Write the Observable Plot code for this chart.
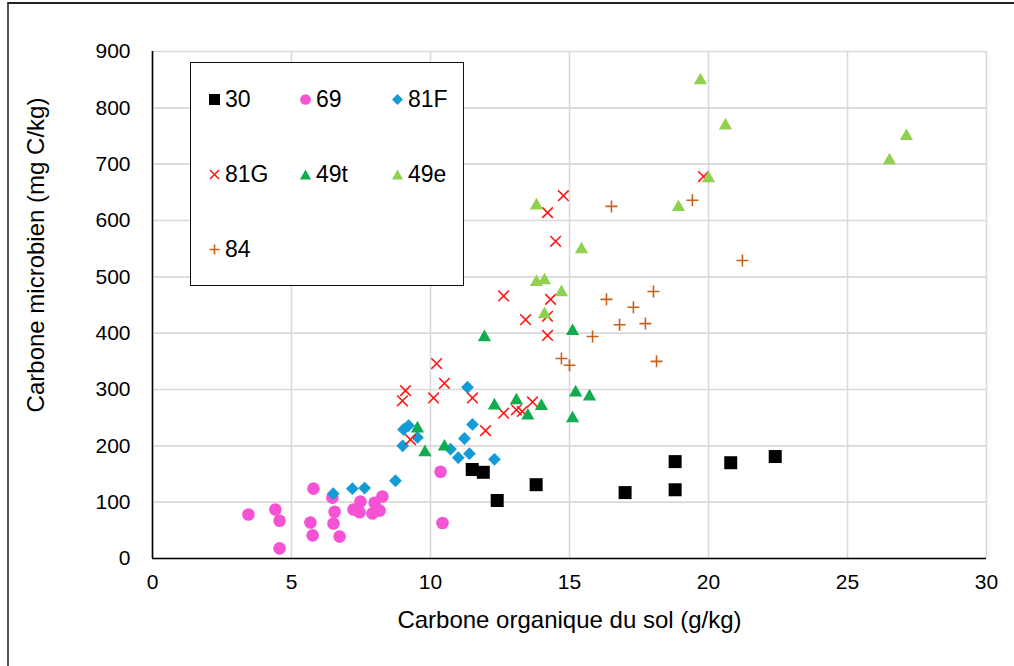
<!DOCTYPE html>
<html>
<head>
<meta charset="utf-8">
<script src="https://cdn.jsdelivr.net/npm/d3@7"></script>
<script src="https://cdn.jsdelivr.net/npm/@observablehq/plot@0.6"></script>
<style>
  body { margin: 0; background: #fff; }
  #chart { position: relative; width: 1014px; height: 666px; overflow: hidden;
           font-family: "Liberation Sans", Arial, sans-serif; }
  #border { position: absolute; left: 7px; top: 2px; width: 1014px; height: 700px;
            border-left: 2px solid #555; border-top: 2px solid #222; pointer-events: none; }
  #legend { position: absolute; left: 190px; top: 62px; width: 272px; height: 222px;
            border: 1.5px solid #111; background: #fff; }
  .item { position: absolute; height: 30px; display: flex; align-items: center;
          font-size: 23px; color: #000; }
  .item svg { margin-right: 4px; overflow: visible; }
</style>
</head>
<body>
<div id="chart"><div id="border"></div></div>
<script>
// Carbone organique du sol (g/kg) vs carbone microbien (mg C/kg), per site
const siteNames = ["30", "69", "81F", "81G", "49t", "49e", "84"];

const site30 = [[11.5,158],[11.9,153],[12.4,103],[13.8,131],[17.0,117],[18.8,172],[18.8,122],[20.8,170],[22.4,181]];
const site69 = [[3.45,78],[4.42,87],[4.57,67],[4.57,18],[5.79,124],[5.68,64],[5.76,41],[6.47,108],[6.55,83],[6.51,62],
                [6.73,39],[7.23,87],[7.45,82],[7.48,101],[7.91,80],[7.99,99],[8.17,85],[8.27,110],[10.36,154],[10.43,63]];
const site81F = [[6.5,115],[7.19,124],[7.63,125],[8.74,138],[9.0,200],[9.03,229],[9.21,236],[9.53,215],[10.72,194],
                 [11.0,179],[11.22,213],[11.51,238],[11.4,186],[11.33,304],[12.3,176]];
const site81G = [[10.22,346],[9.1,298],[8.99,280],[10.11,285],[10.5,311],[11.51,285],[9.28,211],[11.98,227],[12.63,258],
                 [13.09,264],[13.3,261],[13.67,278],[14.78,644],[14.21,614],[14.5,563],[12.63,466],[14.32,460],[13.42,424],
                 [14.21,430],[14.21,396],[19.82,678]];
const site49t = [[9.53,234],[9.8,192],[10.5,202],[11.94,396],[12.3,275],[13.09,284],[13.5,257],[13.99,274],[15.22,298],
                 [15.72,291],[15.11,252],[15.11,407]];
const site49e = [[13.81,630],[15.43,552],[13.81,494],[14.1,497],[14.71,476],[14.1,437],[19.71,852],[20.61,772],[20.0,678],
                 [18.92,627],[27.12,753],[26.51,710]];
const site84 = [[16.51,625],[19.42,636],[21.22,529],[18.02,474],[16.33,460],[17.3,446],[16.8,415],[17.73,417],[15.83,394],
                [14.71,355],[15.0,343],[18.13,350]];

const xTicks = [0, 5, 10, 15, 20, 25, 30];
const yTicks = [0, 100, 200, 300, 400, 500, 600, 700, 800, 900];

// marker shapes; r given to Plot is the half-width of the shape
const half = (size) => Math.sqrt(size / Math.PI);
const squareSym = { draw(c, size) { const h = half(size); c.rect(-h, -h, 2 * h, 2 * h); } };
const diamondSym = { draw(c, size) { const h = half(size); c.moveTo(0, -h); c.lineTo(h, 0); c.lineTo(0, h); c.lineTo(-h, 0); c.closePath(); } };
const triangleSym = { draw(c, size) { const h = half(size); const v = h * 0.88; c.moveTo(0, -v); c.lineTo(h, v); c.lineTo(-h, v); c.closePath(); } };
const timesSym = { draw(c, size) { const h = half(size); c.moveTo(-h, -h); c.lineTo(h, h); c.moveTo(h, -h); c.lineTo(-h, h); } };
const plusSym = { draw(c, size) { const h = half(size); c.moveTo(-h, 0); c.lineTo(h, 0); c.moveTo(0, -h); c.lineTo(0, h); } };
const circleSym = { draw(c, size) { const h = half(size); c.moveTo(h, 0); c.arc(0, 0, h, 0, 2 * Math.PI); } };

const styles = {
  "30":  { data: site30,  symbol: squareSym,   r: 6.5, fill: "#000000", stroke: "none" },
  "69":  { data: site69,  symbol: circleSym,   r: 6.3, fill: "#f652d4", stroke: "none" },
  "81F": { data: site81F, symbol: diamondSym,  r: 6.4, fill: "#129bd6", stroke: "none" },
  "81G": { data: site81G, symbol: timesSym,    r: 5.3, fill: "none", stroke: "#ff1a1a", strokeWidth: 1.6 },
  "49t": { data: site49t, symbol: triangleSym, r: 6.6, fill: "#0fad4f", stroke: "none" },
  "49e": { data: site49e, symbol: triangleSym, r: 6.6, fill: "#8fd14f", stroke: "none" },
  "84":  { data: site84,  symbol: plusSym,     r: 6.0, fill: "none", stroke: "#c8601c", strokeWidth: 1.6 }
};

const dotMarks = siteNames.map(name => {
  const s = styles[name];
  return Plot.dot(s.data, {
    x: d => d[0], y: d => d[1], symbol: s.symbol, r: s.r,
    fill: s.fill, stroke: s.stroke, strokeWidth: s.strokeWidth ?? 1
  });
});

const plot = Plot.plot({
  width: 1014,
  height: 666,
  marginLeft: 152,
  marginRight: 28,
  marginTop: 51,
  marginBottom: 108,
  style: { fontFamily: "Liberation Sans, Arial, sans-serif", fontSize: "21px", color: "#000", background: "transparent" },
  x: { domain: [0, 30] },
  y: { domain: [0, 900] },
  marks: [
    Plot.gridX(xTicks, { stroke: "#d9d9d9", strokeOpacity: 1, strokeWidth: 1.6 }),
    Plot.gridY(yTicks, { stroke: "#d9d9d9", strokeOpacity: 1, strokeWidth: 1.6 }),
    Plot.ruleX([0], { stroke: "#000", strokeWidth: 1.6 }),
    Plot.ruleY([0], { stroke: "#000", strokeWidth: 1.6 }),
    Plot.axisX(xTicks, { tickSize: 0, tickPadding: 16, fontSize: 21, label: null }),
    Plot.axisY(yTicks, { tickSize: 0, tickPadding: 22, fontSize: 21, label: null }),
    Plot.text(["Carbone organique du sol (g/kg)"], {
      frameAnchor: "bottom", textAnchor: "middle", lineAnchor: "middle", dy: 62, fontSize: 24
    }),
    Plot.text(["Carbone microbien (mg C/kg)"], {
      frameAnchor: "left", textAnchor: "middle", lineAnchor: "middle", rotate: -90, dx: -116, dy: -50, fontSize: 24
    }),
    ...dotMarks
  ]
});

const chart = document.getElementById("chart");
chart.insertBefore(plot, chart.firstChild);
plot.style.position = "absolute";
plot.style.left = "0px";
plot.style.top = "0px";

// legend box, three items per row
const legend = document.createElement("div");
legend.id = "legend";
const colX = [17, 108, 200];
const rowY = [21, 96, 171];
siteNames.forEach((name, i) => {
  const s = styles[name];
  const item = document.createElement("div");
  item.className = "item";
  item.style.left = colX[i % 3] + "px";
  item.style.top = rowY[Math.floor(i / 3)] + "px";
  const size = 13;
  const lr = s.r * 0.85;
  const p = d3.path();
  s.symbol.draw(p, lr * lr * Math.PI);
  const svg = d3.create("svg").attr("width", size).attr("height", size)
    .attr("viewBox", `${-size / 2} ${-size / 2} ${size} ${size}`);
  svg.append("path").attr("d", p.toString())
    .attr("fill", s.fill).attr("stroke", s.stroke).attr("stroke-width", s.strokeWidth ?? 0);
  item.appendChild(svg.node());
  const label = document.createElement("span");
  label.textContent = name;
  item.appendChild(label);
  legend.appendChild(item);
});
chart.appendChild(legend);
</script>
</body>
</html>
